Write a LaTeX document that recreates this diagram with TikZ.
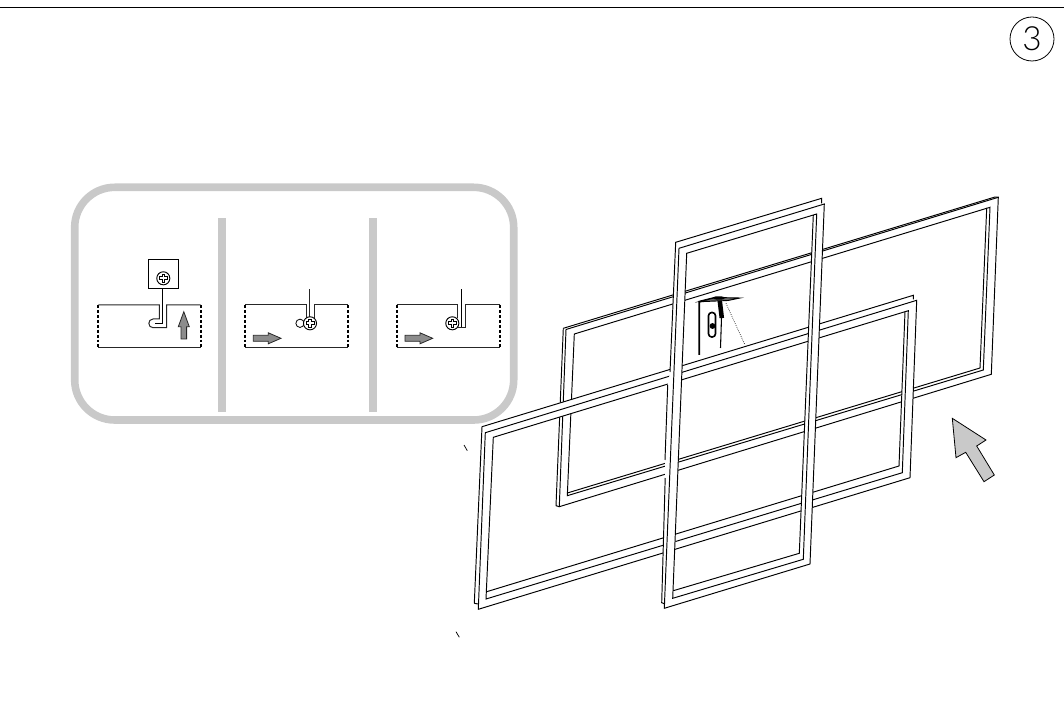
\documentclass[tikz,border=0pt]{standalone}
\usepackage{fontspec}
\setmainfont{Lato Light}
\definecolor{panelgray}{gray}{0.79}
\definecolor{pushgray}{gray}{0.55}
\tikzset{
    frameline/.style={line width=0.72pt, line join=miter},
    railline/.style={line width=0.75pt, black!85},
    sideline/.style={line width=1.35pt, dash pattern=on 2.2pt off 1.5pt},
    panelline/.style={line width=5.7pt, panelgray},
    pusharrow/.style={fill=pushgray, draw=black!85, line width=0.6pt, line join=miter},
    ringfill/.style={fill=white, even odd rule}
}
% one screw head with its cross
\newcommand{\screwhead}[2]{
    \draw[fill=white, line width=0.7pt] (#1,#2) circle (4.9pt);
    \draw[fill=white, line width=0.6pt] (#1-1.4,#2-4) -- (#1+1.4,#2-4) -- (#1+1.4,#2-1.4) -- (#1+4,#2-1.4) -- (#1+4,#2+1.4) -- (#1+1.4,#2+1.4) -- (#1+1.4,#2+4) -- (#1-1.4,#2+4) -- (#1-1.4,#2+1.4) -- (#1-4,#2+1.4) -- (#1-4,#2-1.4) -- (#1-1.4,#2-1.4) -- cycle;
}
\begin{document}
\begin{tikzpicture}[x=0.75pt, y=-0.75pt]
    \useasboundingbox (0,0) rectangle (1064,723);

    % top rule and step number
    \coordinate (ruleL) at (0,7.5);
    \coordinate (ruleR) at (1064,7.5);
    \draw[line width=0.9pt] (ruleL) -- (ruleR);
    \node[draw, circle, line width=0.6pt, minimum size=33pt, inner sep=0pt, font=\fontsize{25}{25}\selectfont] (stepnum) at (1032,39) {3};

    % rounded panel with the two dividers
    \draw[panelline, rounded corners=30pt] (74.7,187.3) rectangle (513.7,420);
    \foreach \x in {221.8, 373} {
        \draw[panelline, line width=5.8pt] (\x,218.3) -- (\x,411.7);
    }

    % rails of the three insets
    \foreach \l/\r in {98.3/200.7, 245.3/347.7, 396.7/500} {
        \draw[railline] (\l,347.7) -- (\r,347.7);
        \draw[sideline] (\l,305) -- (\l,347);
        \draw[sideline] (\r,305) -- (\r,347);
    }

    % inset 1
    \draw[line width=0.75pt] (148.3,260) rectangle (178.3,288.3);
    \screwhead{163.3}{278.3}
    \draw[railline] (98.3,305) -- (159.3,305) -- (159.3,319) -- (153,319) .. controls (147.5,319) and (147.5,327.7) .. (153,327.7) -- (166.7,327.7) -- (166.7,305) -- (200.7,305);
    \draw[line width=0.75pt] (162.7,288.3) -- (162.7,323.3) -- (155,323.3);
    \draw[pusharrow] (181,339) -- (181,326.7) -- (178.3,326.7) -- (183.8,311.7) -- (189.3,326.7) -- (186.6,326.7) -- (186.6,339) -- cycle;

    % inset 2
    \draw[railline] (245.3,305) -- (306,305) -- (306,318);
    \draw[railline] (347.7,305) -- (314,305) -- (314,318);
    \draw[railline] (309.7,289.3) -- (309.7,318);
    \draw[line width=0.6pt] (300,323.3) circle (3.1pt);
    \screwhead{310}{323.3}
    \draw[pusharrow] (253.3,335.3) -- (268.3,335.3) -- (268.3,332.8) -- (281,338.3) -- (268.3,343.8) -- (268.3,341.3) -- (253.3,341.3) -- cycle;

    % inset 3
    \draw[railline] (396.7,305) -- (457.7,305) -- (457.7,318);
    \draw[railline] (500,305) -- (465.7,305) -- (465.7,327.3) -- (458,327.3);
    \draw[line width=0.75pt] (461.7,289.3) -- (461.7,327);
    \screwhead{452.3}{323.3}
    \draw[pusharrow] (405,335.3) -- (420,335.3) -- (420,332.8) -- (432.7,338.3) -- (420,343.8) -- (420,341.3) -- (405,341.3) -- cycle;

    % back frame
    \draw[frameline] (563.3,328.3) -- (995,197) -- (998.3,197.3);
    \draw[frameline] (563.3,328.3) -- (556,505.7) -- (559.3,506.7);
    \draw[frameline] (566,329.5) -- (998.3,197.3) -- (991.3,374.3) -- (559.3,506.7) -- cycle;
    \draw[frameline] (574.3,334) -- (990,207.3) -- (983.3,370) -- (567.3,495.7) -- cycle;
    \draw[frameline] (986.7,208) -- (980,368) -- (567.3,493);

    % front wide frame
    \fill[ringfill] (482,426.7) -- (913.3,295.3) -- (916.7,300.3) -- (910,477.7) -- (478.3,609.3) -- (474.3,603.3) -- cycle
        (493.3,437.3) -- (905,311.7) -- (899,466) -- (486.7,591.7) -- cycle;
    \draw[frameline] (474.3,603.3) -- (482,426.7) -- (913.3,295.3) -- (913.3,299.5);
    \draw[frameline] (474.3,603.3) -- (478,604);
    \draw[frameline] (485.3,432.7) -- (916.7,300.3) -- (910,477.7) -- (478.3,609.3) -- cycle;
    \draw[frameline] (493.3,437.3) -- (908.3,310.7) -- (902.3,472.7) -- (486,599) -- cycle;
    \draw[frameline] (905,311.7) -- (899,466) -- (486.7,591.7);

    % tall frame
    \fill[ringfill] (675.7,242.3) -- (821.7,198.3) -- (824.3,204) -- (810,564) -- (664.3,608.3) -- (661.7,602.7) -- (665,478) -- (665,462) -- (667.7,385) -- (670,372) -- cycle
        (686.7,253.3) -- (813.3,215) -- (799.3,553.3) -- (673.3,590.7) -- cycle;
    \draw[frameline] (670,372) -- (675.7,242.3) -- (821.7,198.3) -- (821.7,203.5);
    \draw[frameline] (667.7,385) -- (665,460);
    \draw[frameline] (665.2,478) -- (661.7,602.7) -- (665,604);
    \draw[frameline] (679,248.3) -- (824.3,204) -- (810,564) -- (664.3,608.3) -- cycle;
    \draw[frameline] (686.7,253.3) -- (816.7,214) -- (803.3,559.3) -- (672.7,598.3) -- cycle;
    \draw[frameline] (813.3,215) -- (799.3,553.3) -- (673.3,590.7);

    % bracket with screw, seen through the tall frame
    \draw[line width=1.4pt] (699.3,355) -- (699.3,301.7) -- (716,297.5);
    \draw[line width=0.7pt, fill=black!60] (699.3,301.7) -- (716,297.5) -- (740,298) -- (728,300.5) -- (705,301.5) -- cycle;
    \fill[black] (719,298) ellipse (4.5pt and 1.3pt);
    \draw[line width=3.4pt] (719.8,301) -- (721.8,318);
    \draw[line width=0.8pt] (721.5,318) -- (720.5,348);
    \draw[line width=1.2pt, rounded corners=2.4pt] (708.5,312.5) rectangle (715.5,337);
    \fill[black] (712.5,326) circle (2.2pt);
    \draw[line width=0.5pt, densely dotted] (726,303.3) -- (745,345);

    % big arrow
    \coordinate (tip) at (952.3,418.3);
    \draw[fill=panelgray, line width=0.6pt, line join=miter] (tip) -- (986,440) -- (976.7,446) -- (994.3,475) -- (984,481.7) -- (965.7,452.3) -- (956,457.7) -- cycle;

    % two stray ticks
    \draw[line width=0.55pt] (464,445) -- (467.3,450.7);
    \draw[line width=0.55pt] (456,631.7) -- (459.3,637.3);
\end{tikzpicture}
\end{document}
